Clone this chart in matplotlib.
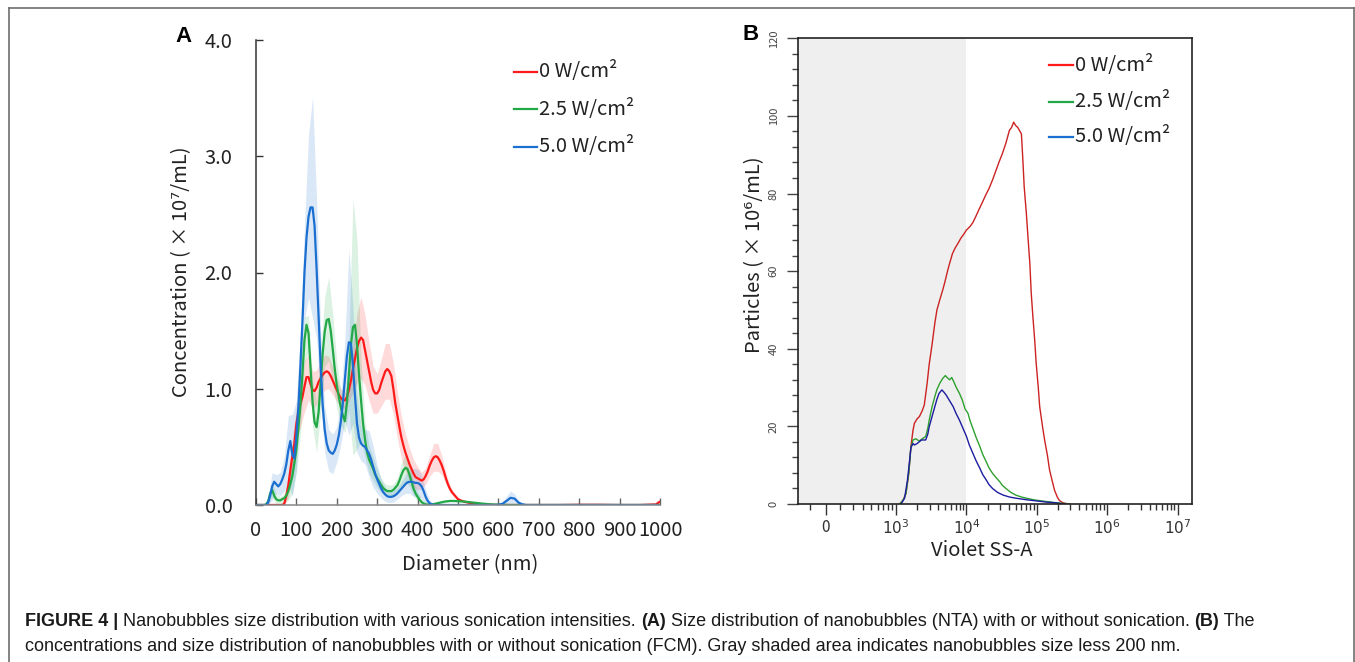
import numpy as np
import matplotlib
matplotlib.use('Agg')
import matplotlib.pyplot as plt
from matplotlib.lines import Line2D

# ---------------- Panel A data (NTA) ----------------
diam_nm = np.concatenate([np.arange(0, 501, 5), np.arange(510, 701, 10),
                          [750, 800, 850, 900, 950, 990, 1000]])

conc_0w = [
    0, 0, 0, 0, 0, 0, 0, 0, 0, 0,
    0, 0, 0, 0, 0.01, 0.08, 0.17, 0.30, 0.42, 0.53,
    0.70, 0.80, 0.87, 0.93, 1.02, 1.10, 1.10, 1.04, 0.99, 0.98,
    1.01, 1.06, 1.09, 1.12, 1.14, 1.15, 1.14, 1.11, 1.07, 1.03,
    0.99, 0.95, 0.92, 0.90, 0.90, 0.93, 0.99, 1.07, 1.17, 1.26,
    1.35, 1.41, 1.44, 1.42, 1.33, 1.24, 1.15, 1.06, 0.99, 0.96,
    0.96, 0.99, 1.05, 1.10, 1.15, 1.17, 1.15, 1.11, 1.00, 0.87,
    0.77, 0.67, 0.58, 0.51, 0.45, 0.40, 0.35, 0.31, 0.27, 0.24,
    0.23, 0.22, 0.21, 0.22, 0.25, 0.29, 0.34, 0.38, 0.41, 0.42,
    0.41, 0.38, 0.34, 0.29, 0.23, 0.18, 0.14, 0.11, 0.09, 0.07,
    0.05,
    0.035, 0.025, 0.017, 0.012, 0.008, 0.005, 0.003, 0.002, 0.001, 0,
    0, 0, 0, 0, 0, 0, 0, 0, 0, 0,
    0, 0.002, 0.002, 0, 0, 0.005, 0.03]

conc_25w = [
    0, 0, 0, 0, 0, 0.005, 0.03, 0.10, 0.13, 0.08,
    0.05, 0.04, 0.04, 0.05, 0.06, 0.08, 0.12, 0.18, 0.25, 0.36,
    0.48, 0.66, 0.86, 1.13, 1.42, 1.55, 1.48, 1.18, 0.88, 0.71,
    0.67, 0.80, 1.05, 1.30, 1.49, 1.59, 1.60, 1.50, 1.34, 1.17,
    1.03, 0.93, 0.84, 0.77, 0.72, 0.88, 1.12, 1.38, 1.53, 1.55,
    1.38, 1.12, 0.90, 0.70, 0.56, 0.45, 0.39, 0.35, 0.31, 0.26,
    0.23, 0.20, 0.17, 0.145, 0.13, 0.12, 0.12, 0.12, 0.13, 0.15,
    0.17, 0.21, 0.26, 0.30, 0.32, 0.31, 0.26, 0.20, 0.14, 0.10,
    0.07, 0.045, 0.025, 0.012, 0.006, 0.003, 0.003, 0.005, 0.008, 0.012,
    0.016, 0.02, 0.024, 0.028, 0.031, 0.033, 0.035, 0.035, 0.035, 0.034,
    0.033,
    0.031, 0.028, 0.024, 0.02, 0.016, 0.012, 0.009, 0.006, 0.004, 0.003,
    0.002, 0.001, 0, 0, 0, 0, 0, 0, 0, 0,
    0, 0, 0, 0, 0, 0, 0]

conc_50w = [
    0, 0, 0, 0, 0, 0, 0.02, 0.08, 0.16, 0.20,
    0.18, 0.16, 0.18, 0.22, 0.27, 0.35, 0.47, 0.55, 0.43, 0.40,
    0.60, 0.85, 1.20, 1.58, 2.00, 2.30, 2.48, 2.56, 2.56, 2.40,
    2.03, 1.62, 1.20, 0.86, 0.65, 0.53, 0.47, 0.45, 0.44, 0.47,
    0.52, 0.60, 0.72, 0.88, 1.08, 1.28, 1.40, 1.39, 1.20, 0.94,
    0.70, 0.58, 0.53, 0.51, 0.50, 0.47, 0.44, 0.39, 0.33, 0.27,
    0.22, 0.18, 0.14, 0.11, 0.09, 0.075, 0.07, 0.07, 0.075, 0.085,
    0.10, 0.12, 0.14, 0.16, 0.18, 0.195, 0.20, 0.20, 0.195, 0.19,
    0.19, 0.18, 0.16, 0.12, 0.07, 0.035, 0.015, 0.005, 0, 0,
    0, 0, 0, 0, 0, 0, 0, 0, 0, 0,
    0,
    0, 0, 0, 0, 0, 0, 0, 0, 0, 0.002,
    0.01, 0.035, 0.062, 0.055, 0.02, 0.005, 0, 0, 0, 0,
    0, 0, 0, 0, 0, 0, 0]

# shaded spread (half-width) on a 10 nm grid
band_nm = np.arange(20, 701, 10)
spread_0w = [
    0, 0, 0, 0, 0, 0.03, 0.10, 0.15, 0.15, 0.20,
    0.22, 0.20, 0.16, 0.15, 0.15, 0.15, 0.14, 0.12, 0.10, 0.08,
    0.07, 0.10, 0.20, 0.30, 0.35, 0.30, 0.25, 0.20, 0.17, 0.20,
    0.24, 0.24, 0.22, 0.20, 0.18, 0.16, 0.14, 0.12, 0.10, 0.07,
    0.07, 0.09, 0.12, 0.12, 0.08, 0.05, 0.03, 0.02, 0.01, 0,
    0, 0, 0, 0, 0, 0, 0, 0, 0, 0,
    0, 0, 0, 0, 0, 0, 0, 0, 0]
spread_25w = [
    0, 0.02, 0.06, 0.05, 0.03, 0.04, 0.08, 0.15, 0.20, 0.25,
    0.20, 0.15, 0.20, 0.22, 0.25, 0.30, 0.36, 0.30, 0.20, 0.15,
    0.10, 0.30, 1.10, 0.90, 0.35, 0.15, 0.12, 0.10, 0.08, 0.06,
    0.05, 0.05, 0.05, 0.06, 0.10, 0.12, 0.10, 0.06, 0.04, 0.03,
    0.02, 0.01, 0.01, 0.01, 0.01, 0.01, 0.01, 0.01, 0.01, 0.01,
    0.01, 0.01, 0.01, 0.01, 0, 0, 0, 0, 0, 0,
    0, 0, 0, 0, 0, 0, 0, 0, 0]
spread_50w = [
    0, 0.05, 0.12, 0.08, 0.10, 0.15, 0.30, 0.35, 0.30, 0.30,
    0.40, 0.70, 0.95, 0.60, 0.30, 0.20, 0.18, 0.17, 0.15, 0.20,
    0.35, 0.80, 0.50, 0.25, 0.15, 0.15, 0.20, 0.18, 0.12, 0.08,
    0.06, 0.05, 0.05, 0.05, 0.06, 0.08, 0.10, 0.12, 0.12, 0.10,
    0.06, 0.03, 0.01, 0, 0, 0, 0, 0, 0, 0,
    0, 0, 0, 0, 0, 0, 0, 0, 0.005, 0.02,
    0.04, 0.06, 0.04, 0.02, 0.005, 0, 0, 0, 0]

# ---------------- Panel B data (FCM) ----------------
red_exp = [3.05, 3.10, 3.14, 3.18, 3.21, 3.24, 3.26, 3.30, 3.33, 3.37, 3.40, 3.44,
           3.47, 3.51, 3.55, 3.58, 3.62, 3.66, 3.69, 3.73, 3.76, 3.80, 3.84, 3.88,
           3.92, 3.96, 4.00, 4.05, 4.09, 4.13, 4.18, 4.23, 4.27, 4.32, 4.37, 4.42,
           4.46, 4.51, 4.56, 4.61, 4.64, 4.67, 4.70, 4.73, 4.76, 4.78, 4.80, 4.82,
           4.85, 4.87, 4.90, 4.92, 4.94, 4.97, 4.99, 5.02, 5.04, 5.08, 5.11, 5.15,
           5.18, 5.22, 5.25, 5.29, 5.32, 5.37, 5.45]
red_cnt = [0, 1.0, 2.7, 8, 14.8, 19, 20.8, 22, 22.5, 24, 25.5, 31,
           36, 41, 46.6, 50, 52.6, 55, 57, 60, 62, 64.5, 66, 67.2,
           68.5, 69.5, 70.6, 71.5, 72.5, 74, 76, 77.9, 79.5, 81.3, 83.5, 86,
           88, 90.3, 93, 96.3, 97, 98.4, 97.5, 97, 96, 95.4, 89, 81.7,
           75, 69.7, 62, 54.3, 49.1, 42, 36.3, 30, 25.1, 20, 16.5, 12.5,
           8.8, 5.8, 3.6, 1.8, 0.9, 0.3, 0]

green_exp = [3.05, 3.10, 3.14, 3.18, 3.21, 3.24, 3.28, 3.33, 3.37, 3.42, 3.45, 3.47,
             3.51, 3.55, 3.58, 3.62, 3.66, 3.70, 3.73, 3.76, 3.79, 3.82, 3.85, 3.90,
             3.94, 3.98, 4.02, 4.05, 4.09, 4.14, 4.19, 4.23, 4.28, 4.32, 4.37, 4.42,
             4.47, 4.51, 4.56, 4.63, 4.70, 4.78, 4.85, 4.95, 5.04, 5.15, 5.27, 5.37, 5.47]
green_cnt = [0, 1.0, 2.7, 8, 14.5, 16.5, 16.8, 16.2, 16.8, 17.4, 19.5, 21.6,
             25, 27.7, 29.5, 31.1, 32.3, 33.1, 32.5, 32, 32.6, 31.5, 30.2, 28.5,
             26.8, 24.5, 23.4, 21.5, 19.5, 17, 14.8, 12.8, 10.9, 9.3, 7.9, 6.8,
             5.8, 4.8, 4.0, 3.0, 2.3, 1.8, 1.5, 1.1, 0.86, 0.6, 0.34, 0.15, 0]

blue_exp = [3.07, 3.12, 3.16, 3.19, 3.21, 3.24, 3.26, 3.30, 3.36, 3.42, 3.45, 3.47,
            3.51, 3.55, 3.58, 3.61, 3.65, 3.68, 3.71, 3.76, 3.81, 3.85, 3.90, 3.95,
            4.00, 4.04, 4.09, 4.14, 4.19, 4.23, 4.28, 4.32, 4.37, 4.44, 4.52, 4.61,
            4.70, 4.85, 4.99, 5.13, 5.27, 5.40]
blue_cnt = [0, 1.5, 6, 11, 14.5, 15.6, 15.2, 15.6, 16.5, 16.5, 18, 19.9,
            22.5, 25.1, 27, 28.5, 29.4, 28.8, 28.1, 26.6, 25.1, 23.4, 21.6, 19.5,
            17.4, 15.2, 13.1, 11, 9.2, 7.6, 6.2, 5.0, 4.0, 3.0, 2.3, 1.8,
            1.5, 1.1, 0.8, 0.5, 0.3, 0]

legend_labels = ['0 W/cm²', '2.5 W/cm²', '5.0 W/cm²']
a_xticks = list(range(0, 1001, 100))
a_yticks = [0.0, 1.0, 2.0, 3.0, 4.0]
b_yticks = [0, 20, 40, 60, 80, 100, 120]
b_xticks = [0, 1e3, 1e4, 1e5, 1e6, 1e7]
b_xticklabels = ['0', '$10^3$', '$10^4$', '$10^5$', '$10^6$', '$10^7$']

# ---------------- figure ----------------
plt.rcParams['font.family'] = ['Noto Sans CJK JP', 'DejaVu Sans']
W, H = 1355, 662
fig = plt.figure(figsize=(W / 100, H / 100), dpi=100)


def fx(px):
    return px / W


def fy(py):
    return 1 - py / H


# ---- Panel A ----
axA = fig.add_axes([fx(256), fy(505), fx(660) - fx(256), fy(40) - fy(505)])
colsA = ['#ff1a1a', '#22a846', '#1a6fd0']
seriesA = [np.array(conc_0w), np.array(conc_25w), np.array(conc_50w)]
spreads = [np.array(spread_0w), np.array(spread_25w), np.array(spread_50w)]
mask = np.isin(diam_nm, band_nm)
for y, s, c in zip(seriesA, spreads, colsA):
    yc = y[mask]
    axA.fill_between(band_nm, np.clip(yc - s, 0, None), yc + s, color=c,
                     alpha=0.16, lw=0)
for y, c in zip(seriesA, colsA):
    axA.plot(diam_nm, y, color=c, lw=1.6, solid_capstyle='round')
axA.set_xlim(0, 1000)
axA.set_ylim(0, 4.0)
for s in ['top', 'right']:
    axA.spines[s].set_visible(False)
for s in ['left', 'bottom']:
    axA.spines[s].set_color('#333333')
    axA.spines[s].set_linewidth(1.1)
axA.spines['bottom'].set_color('#888888')
axA.set_xticks(a_xticks)
axA.set_xticklabels([str(v) for v in a_xticks])
axA.set_yticks(a_yticks)
axA.set_yticklabels(['%.1f' % v for v in a_yticks])
axA.tick_params(axis='x', direction='in', length=5, width=1, color='#666666',
                labelsize=14.5, pad=11, labelcolor='#222222')
axA.tick_params(axis='y', direction='in', length=5, width=1, color='#333333',
                labelsize=14.5, pad=17, labelcolor='#222222')
fig.text(fx(182), fy(272), 'Concentration ( × 10⁷/mL)', rotation=90,
         ha='center', va='center', fontsize=14.5, color='#222222')
fig.text(fx(470), fy(565), 'Diameter (nm)', ha='center', va='center',
         fontsize=14.5, color='#222222')
fig.text(fx(184), fy(36), 'A', ha='center', va='center', fontsize=16,
         fontweight='bold', family='Liberation Sans')

legA_rows = [71.7, 109, 146.7]
for lab, c, yy in zip(legend_labels, colsA, legA_rows):
    fig.add_artist(Line2D([fx(514), fx(537)], [fy(yy), fy(yy)], color=c,
                          lw=1.6, transform=fig.transFigure))
    fig.text(fx(539), fy(yy), lab, ha='left', va='center', fontsize=14.5,
             color='#222222')

# ---- Panel B ----
axB = fig.add_axes([fx(798.3), fy(504), fx(1191.7) - fx(798.3), fy(38.3) - fy(504)])
axB.set_xscale('symlog', linthresh=1000, linscale=0.9)
axB.set_xlim(-390, 10 ** 7.2)
axB.set_ylim(0, 120)
axB.axvspan(-390, 1e4, color='#efefef', lw=0, zorder=0)
colsB = ['#cc2222', '#2ea02e', '#1c1ca0']
for e, n, c in zip([red_exp, green_exp, blue_exp], [red_cnt, green_cnt, blue_cnt], colsB):
    axB.plot(10 ** np.array(e), n, color=c, lw=1.0)
for s in axB.spines.values():
    s.set_color('#222222')
    s.set_linewidth(1.2)
axB.set_xticks(b_xticks)
axB.set_xticklabels(b_xticklabels)
minor_x = [-220, 200, 390, 530, 650, 740, 820, 880, 940]
for k in range(3, 7):
    minor_x += [m * 10 ** k for m in range(2, 10)]
axB.set_xticks(minor_x, minor=True)
axB.set_yticks(b_yticks)
axB.set_yticks(np.arange(0, 121, 4), minor=True)
axB.tick_params(axis='x', which='major', direction='out', length=8, width=1,
                labelsize=11, pad=3, colors='#333333')
axB.tick_params(axis='x', which='minor', direction='out', length=4, width=1,
                color='#333333')
axB.tick_params(axis='y', which='major', direction='out', length=8, width=1,
                labelsize=8, pad=6, colors='#444444', labelrotation=90)
axB.tick_params(axis='y', which='minor', direction='out', length=4, width=1,
                color='#444444')
for lab in axB.get_yticklabels():
    lab.set_va('center')
fig.text(fx(755), fy(255), 'Particles ( × 10⁶/mL)', rotation=90,
         ha='center', va='center', fontsize=14.5, color='#222222')
fig.text(fx(982), fy(550), 'Violet SS-A', ha='center', va='center',
         fontsize=14.5, color='#222222')
fig.text(fx(751), fy(35), 'B', ha='center', va='center', fontsize=16,
         fontweight='bold', family='Liberation Sans')

legB_rows = [65, 101.7, 136.7]
for lab, c, yy in zip(legend_labels, colsA, legB_rows):
    fig.add_artist(Line2D([fx(1049), fx(1073)], [fy(yy), fy(yy)], color=c,
                          lw=1.6, transform=fig.transFigure))
    fig.text(fx(1075), fy(yy), lab, ha='left', va='center', fontsize=14.5,
             color='#222222')

# ---- frame ----
fc = '#6e6e6e'
fig.add_artist(Line2D([fx(9), fx(9)], [0, fy(8)], color=fc, lw=1.2, transform=fig.transFigure))
fig.add_artist(Line2D([fx(9), fx(1353.5)], [fy(8), fy(8)], color=fc, lw=1.2, transform=fig.transFigure))
fig.add_artist(Line2D([fx(1353.5), fx(1353.5)], [0, fy(8)], color=fc, lw=1.2, transform=fig.transFigure))

# ---- caption ----
renderer = fig.canvas.get_renderer()


def rich_line(x_px, y_px, parts, size):
    x = x_px
    for txt, bold in parts:
        t = fig.text(fx(x), fy(y_px), txt, fontsize=size,
                     fontweight='bold' if bold else 'normal',
                     family='Liberation Sans', ha='left', va='baseline',
                     color='#1a1a1a')
        x += t.get_window_extent(renderer=renderer).width


cap_size = 13.0
rich_line(25, 626, [('FIGURE 4 |', True),
                    (' Nanobubbles size distribution with various sonication intensities. ', False),
                    ('(A)', True),
                    (' Size distribution of nanobubbles (NTA) with or without sonication. ', False),
                    ('(B)', True), (' The', False)], cap_size)
rich_line(25, 651, [('concentrations and size distribution of nanobubbles with or without '
                     'sonication (FCM). Gray shaded area indicates nanobubbles size less 200 nm.',
                     False)], cap_size)

fig.savefig('out.png', dpi=100)
